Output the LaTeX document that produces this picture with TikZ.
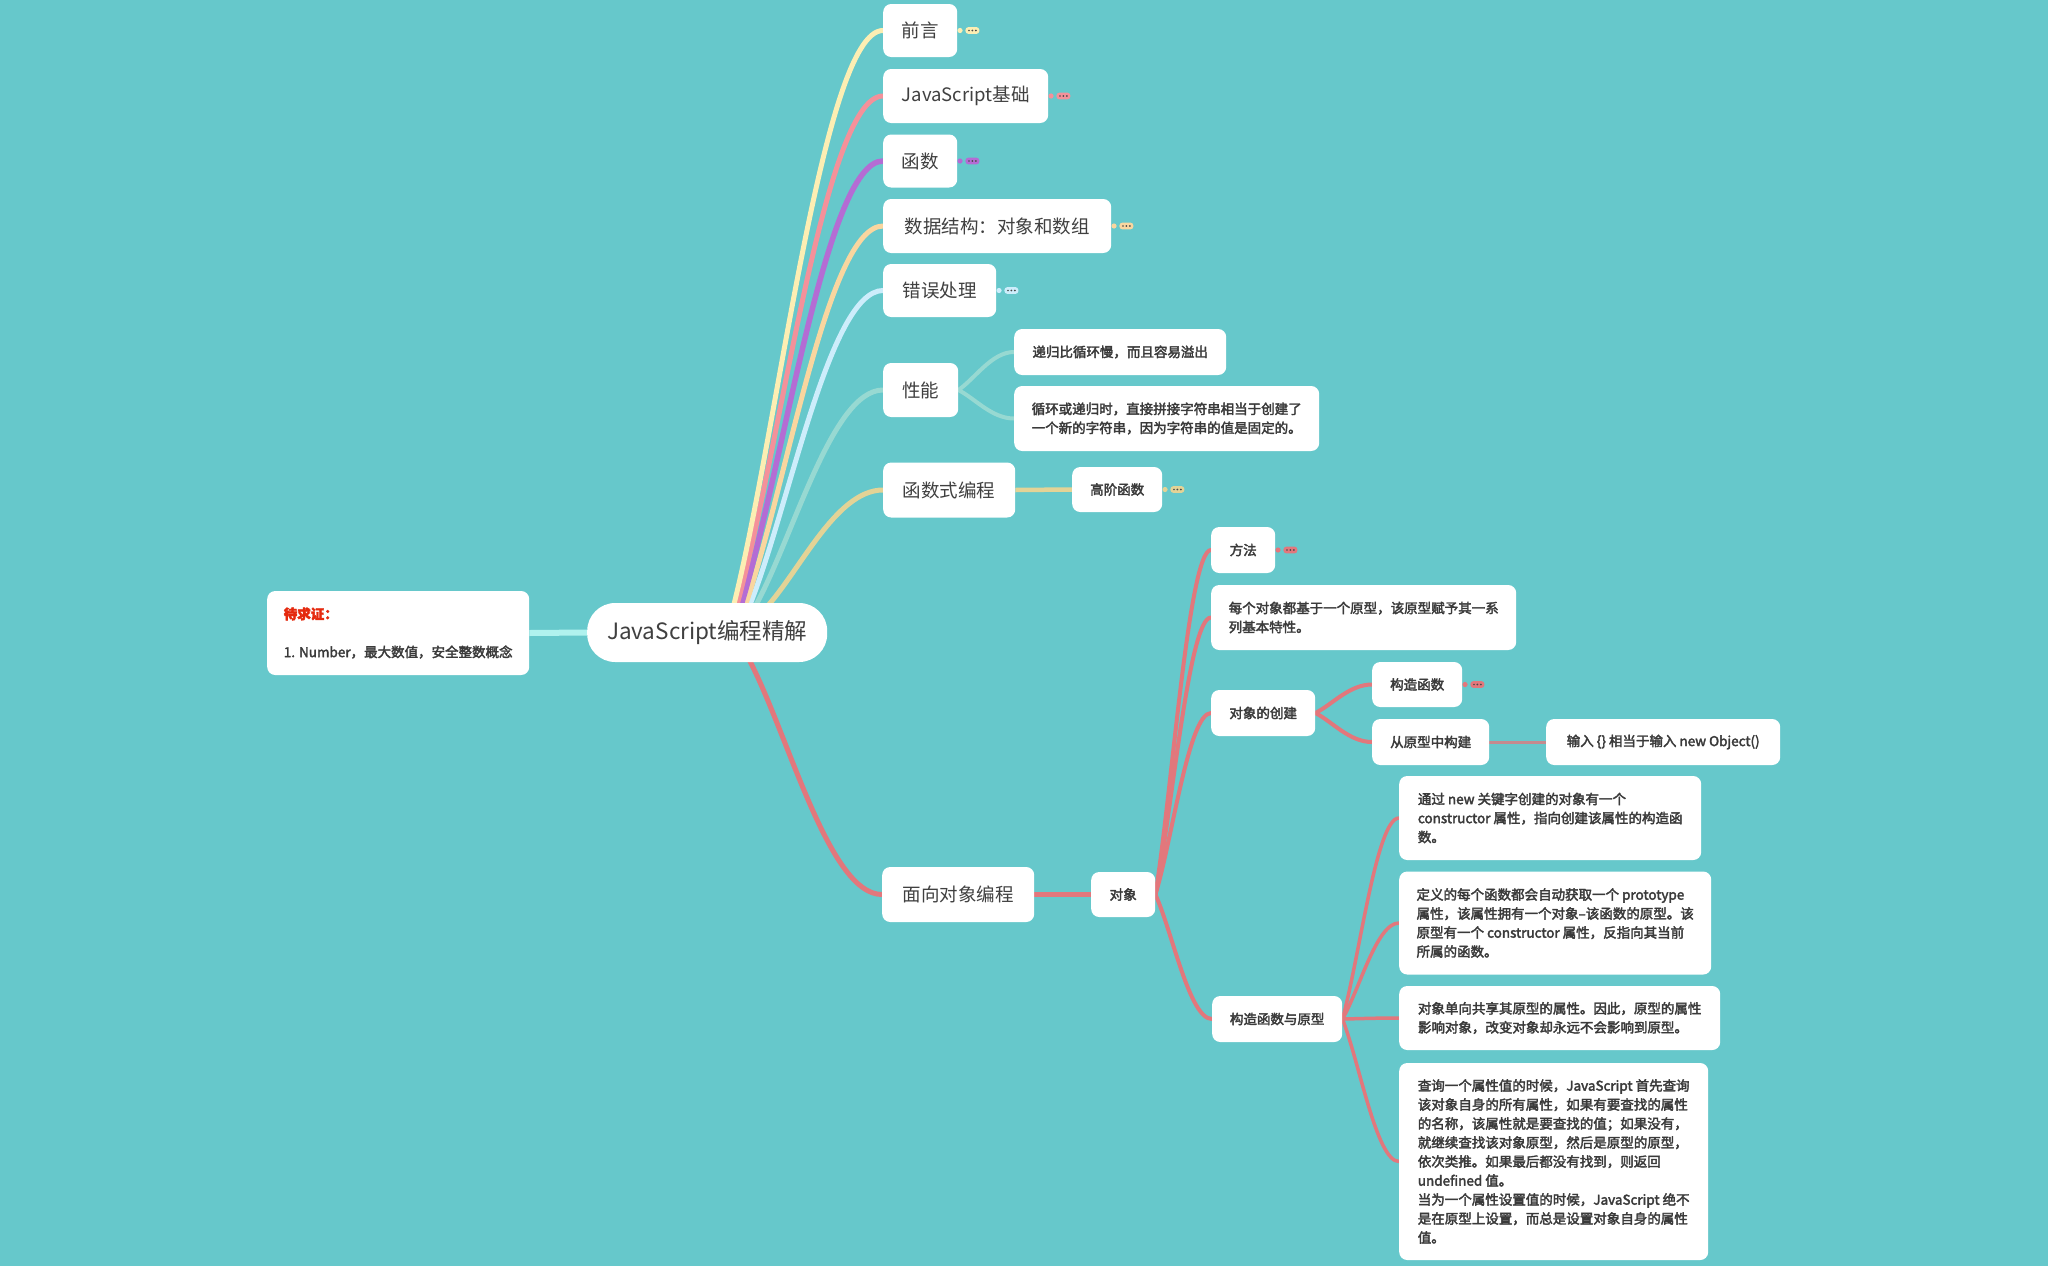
\documentclass[tikz,border=0pt]{standalone}
\usepackage{fontspec}
\setmainfont{Noto Sans CJK SC}
\newfontfamily\mmmed[FakeBold=2.6]{Noto Sans CJK SC}
\usetikzlibrary{calc}
\pgfdeclarelayer{bg}
\pgfdeclarelayer{edges}
\pgfsetlayers{bg,edges,main}

\definecolor{bgteal}{HTML}{66C8CB}
\definecolor{cYellow}{HTML}{FCEEB3}
\definecolor{cPink}{HTML}{F4919A}
\definecolor{cPurple}{HTML}{B46CD4}
\definecolor{cOrange}{HTML}{F9D69F}
\definecolor{cBlue}{HTML}{CDEDFB}
\definecolor{cTeal}{HTML}{97D9D2}
\definecolor{cTan}{HTML}{E3D396}
\definecolor{cCoral}{HTML}{E2777C}
\definecolor{cCyan}{HTML}{B0F2EE}
\definecolor{cRed}{HTML}{E5290E}
\definecolor{cGrey}{HTML}{C48A8E}
\definecolor{txt}{HTML}{404040}
\definecolor{txts}{HTML}{3A3A3A}
\definecolor{dotc}{HTML}{4A4A4A}

\newcommand\mmroot{\fontsize{22.5}{27}\selectfont}
\newcommand\mmbig{\fontsize{18.5}{22}\selectfont}
\newcommand\mmsmall{\fontsize{13.5}{19}\selectfont}

% curved connector: straight start, horizontal arrival
\newcommand\mmcurve[3][]{%
  \draw[#1] let \p1=(#2), \p2=(#3) in
    (\p1) .. controls ($(\p1)!0.3!(\p2)$) and ({0.6*\x2+0.4*\x1},\y2) .. (\p2);}

% collapsed-branch marker at the right side of a node
\newcommand\mmmore[2]{%
  \fill[#2] ($(#1.east)+(2.6,0)$) circle (2.6pt);
  \fill[#2, rounded corners=3pt] ($(#1.east)+(8,-3.4)$) rectangle ($(#1.east)+(22,3.4)$);
  \foreach \d in {11.6,15,18.4} \fill[dotc] ($(#1.east)+(\d,0)$) circle (0.95pt);}

\tikzset{
  box/.style={fill=white, rounded corners=8pt, inner sep=0pt, anchor=west, align=left, text=txt},
  topic/.style={box, font=\mmbig},
  sub/.style={box, font=\mmsmall\mmmed, text=txts},
  edge/.style={line width=5pt, line cap=round},
  subedge/.style={line width=4pt, line cap=round},
}

\begin{document}
\begin{tikzpicture}[x=1pt, y=-1pt]
\begin{pgfonlayer}{bg}
  \fill[bgteal] (0,0) rectangle (2048,1266);
\end{pgfonlayer}
\useasboundingbox (0,0) rectangle (2048,1266);

% central topic and floating note
\node[box, font=\mmroot, rounded corners=28pt, minimum width=240, minimum height=59] (root) at (587,632.5) {JavaScript编程精解};
\node[sub, minimum width=262, minimum height=84] (note) at (267,633)
  {\textcolor{cRed}{\bfseries 待求证：}\\[19pt]1. Number，最大数值，安全整数概念};

% main topics
\node[topic, minimum width=74,  minimum height=53] (qy)   at (883,30.5)  {前言};
\node[topic, minimum width=165, minimum height=54] (jsjc) at (883,96)    {JavaScript基础};
\node[topic, minimum width=74,  minimum height=53] (hs)   at (883,161)   {函数};
\node[topic, minimum width=228, minimum height=54] (sjjg) at (883,226)   {数据结构：对象和数组};
\node[topic, minimum width=113, minimum height=53] (cwcl) at (883,290.5) {错误处理};
\node[topic, minimum width=75,  minimum height=54] (xn)   at (883,390)   {性能};
\node[topic, minimum width=132, minimum height=55] (hssb) at (883,490)   {函数式编程};
\node[topic, minimum width=152, minimum height=55] (mxdx) at (882,894.5) {面向对象编程};

% performance
\node[sub, minimum width=212, minimum height=46] (xn1) at (1014,352) {递归比循环慢，而且容易溢出};
\node[sub, minimum width=305, minimum height=65] (xn2) at (1014,418.5)
  {循环或递归时，直接拼接字符串相当于创建了\\一个新的字符串，因为字符串的值是固定的。};

% functional programming
\node[sub, minimum width=90, minimum height=45] (gjhs) at (1072,489.5) {高阶函数};

% object oriented programming
\node[sub, minimum width=64, minimum height=45] (dx) at (1091,894.5) {对象};
\node[sub, minimum width=64, minimum height=46] (ff) at (1211,550) {方法};
\node[sub, minimum width=305, minimum height=65] (yx) at (1211,617.5)
  {每个对象都基于一个原型，该原型赋予其一系\\列基本特性。};
\node[sub, minimum width=104, minimum height=46] (cj) at (1211,713) {对象的创建};
\node[sub, minimum width=90, minimum height=45] (gzhs) at (1372,684.5) {构造函数};
\node[sub, minimum width=117, minimum height=46] (yxgj) at (1372,742) {从原型中构建};
\node[sub, minimum width=234, minimum height=46] (newobj) at (1546,742) {输入 \{\} 相当于输入 new Object()};
\node[sub, minimum width=130, minimum height=46] (gzyx) at (1212,1019) {构造函数与原型};
\node[sub, minimum width=302, minimum height=84] (p1) at (1399,818)
  {通过 new 关键字创建的对象有一个\\constructor 属性，指向创建该属性的构造函\\数。};
\node[sub, minimum width=312, minimum height=103] (p2) at (1399,923)
  {定义的每个函数都会自动获取一个 prototype\\属性，该属性拥有一个对象–该函数的原型。该\\原型有一个 constructor 属性，反指向其当前\\所属的函数。};
\node[sub, minimum width=321, minimum height=64] (p3) at (1399,1018)
  {对象单向共享其原型的属性。因此，原型的属性\\影响对象，改变对象却永远不会影响到原型。};
\node[sub, minimum width=309, minimum height=197] (p4) at (1399,1161.5)
  {查询一个属性值的时候，JavaScript 首先查询\\该对象自身的所有属性，如果有要查找的属性\\的名称，该属性就是要查找的值；如果没有，\\就继续查找该对象原型，然后是原型的原型，\\依次类推。如果最后都没有找到，则返回\\undefined 值。\\当为一个属性设置值的时候，JavaScript 绝不\\是在原型上设置，而总是设置对象自身的属性\\值。};

% branch roots along the top and bottom edge of the central topic
\coordinate (s1) at (732,612);
\coordinate (s2) at (735,612);
\coordinate (s3) at (739,612);
\coordinate (s4) at (743,612);
\coordinate (s5) at (747,612);
\coordinate (s6) at (752,612);
\coordinate (s7) at (762,612);
\coordinate (s8) at (745,652);

\begin{pgfonlayer}{edges}
  \draw[cCyan, line width=6pt] (note.east) -- (root.west);
  \mmcurve[edge, cTan]{s7}{hssb.west}
  \mmcurve[edge, cTeal]{s6}{xn.west}
  \mmcurve[edge, cBlue]{s5}{cwcl.west}
  \mmcurve[edge, cOrange]{s4}{sjjg.west}
  \mmcurve[edge, cPurple, line width=5.5pt]{s3}{hs.west}
  \mmcurve[edge, cPink]{s2}{jsjc.west}
  \mmcurve[edge, cYellow]{s1}{qy.west}
  \mmcurve[edge, cCoral]{s8}{mxdx.west}

  \mmcurve[subedge, cTeal]{xn.east}{xn1.west}
  \mmcurve[subedge, cTeal]{xn.east}{xn2.west}
  \draw[cTan, line width=4.5pt] (hssb.east) -- (gjhs.west);

  \draw[cCoral, line width=4.5pt] (mxdx.east) -- (dx.west);
  \mmcurve[subedge, cCoral]{dx.east}{ff.west}
  \mmcurve[subedge, cCoral]{dx.east}{yx.west}
  \mmcurve[subedge, cCoral]{dx.east}{cj.west}
  \mmcurve[subedge, cCoral]{dx.east}{gzyx.west}

  \mmcurve[subedge, cCoral]{cj.east}{gzhs.west}
  \mmcurve[subedge, cCoral]{cj.east}{yxgj.west}
  \draw[cGrey, line width=3pt] (yxgj.east) -- (newobj.west);

  \mmcurve[cCoral, line width=3.5pt, line cap=round]{gzyx.east}{p1.west}
  \mmcurve[cCoral, line width=3.5pt, line cap=round]{gzyx.east}{p2.west}
  \mmcurve[cCoral, line width=3.5pt, line cap=round]{gzyx.east}{p3.west}
  \mmcurve[cCoral, line width=3.5pt, line cap=round]{gzyx.east}{p4.west}
\end{pgfonlayer}

% collapsed-branch markers
\mmmore{qy}{cYellow}
\mmmore{jsjc}{cPink}
\mmmore{hs}{cPurple}
\mmmore{sjjg}{cOrange}
\mmmore{cwcl}{cBlue}
\mmmore{gjhs}{cTan}
\mmmore{ff}{cCoral}
\mmmore{gzhs}{cCoral}
\end{tikzpicture}
\end{document}
